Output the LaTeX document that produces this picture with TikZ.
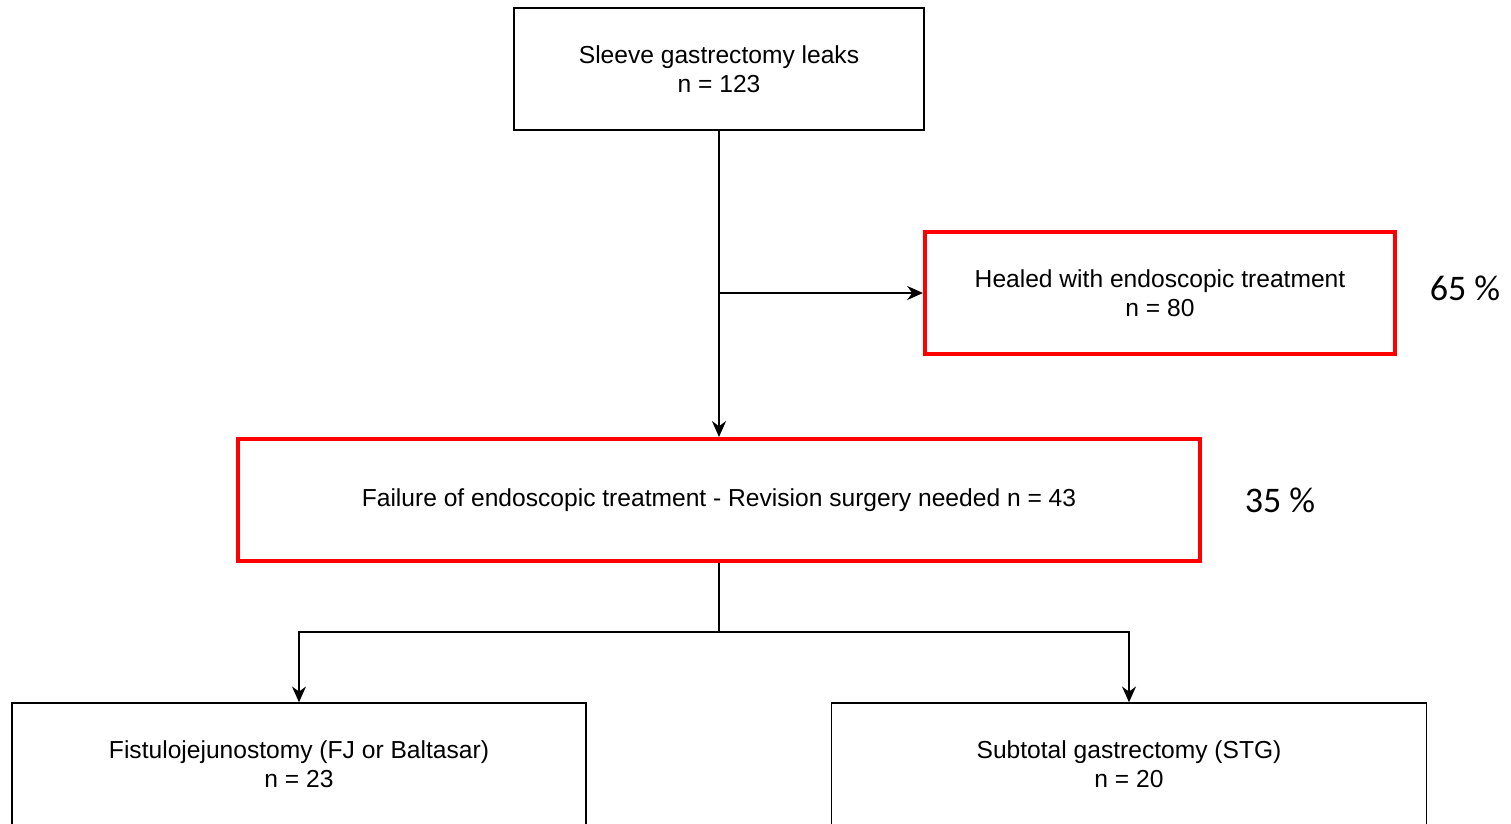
\documentclass[tikz,border=0pt]{standalone}
\usepackage{fontspec}
\setmainfont{Liberation Sans}
\newfontfamily\pctfont{Carlito}
\usetikzlibrary{arrows.meta}

\begin{document}
\begin{tikzpicture}[x=0.02cm, y=-0.02cm,
    caixa/.style={draw, line width=0.85pt, minimum height=2.44cm, align=center,
        font=\fontsize{14}{16.5}\selectfont},
    caixavermelha/.style={caixa, draw=red, line width=2.4pt},
    seta/.style={line width=0.85pt, -{Stealth[length=9pt, width=8pt]}},
    linha/.style={line width=0.85pt},
    pct/.style={font=\pctfont\fontsize{20.5}{24}\selectfont}]
\clip (0,0) rectangle (1511,823);

% Fugas
\node[caixa, minimum width=8.2cm] (fugas) at (719,69) {Sleeve gastrectomy leaks\\n = 123};

% Sucesso endoscopico
\node[caixavermelha, minimum width=9.4cm] (cura) at (1160,293) {Healed with endoscopic treatment\\n = 80};
\node[pct] (pcura) at (1465,288) {65 \%};

% Falha
\node[caixavermelha, minimum width=19.24cm] (falha) at (719,500) {Failure of endoscopic treatment - Revision surgery needed n = 43};
\node[pct] (pfalha) at (1280,500) {35 \%};

% Cirurgia
\node[caixa, minimum width=11.48cm] (fj) at (299,764) {Fistulojejunostomy (FJ or Baltasar)\\n = 23};
\node[caixa, minimum width=11.9cm] (stg) at (1129,764) {Subtotal gastrectomy (STG)\\n = 20};

% Ligacoes
\draw[seta] (fugas.south) -- (falha.north);
\coordinate (ramo) at (fugas.south |- cura.west);
\draw[seta] (ramo) -- (cura.west);
\coordinate (divide) at (719,632);
\draw[linha] (falha.south) -- (divide);
\draw[seta] (divide) -| (fj.north);
\draw[seta] (divide) -| (stg.north);
\end{tikzpicture}
\end{document}
